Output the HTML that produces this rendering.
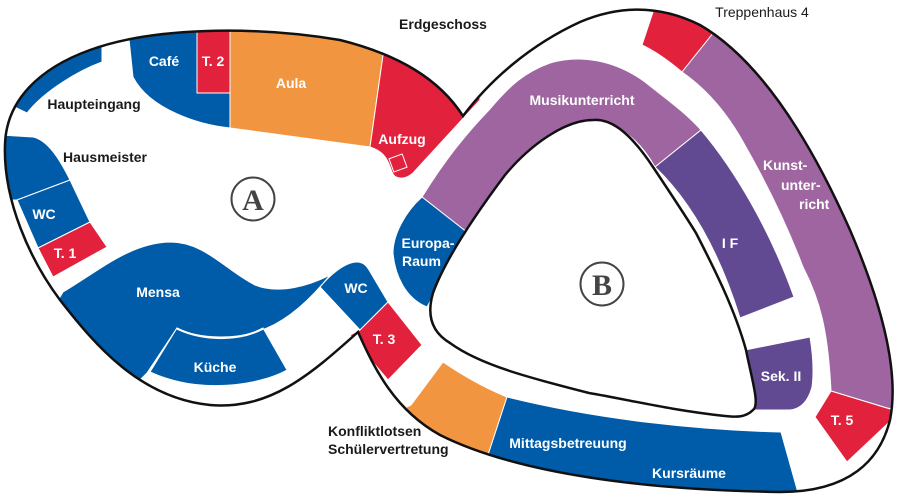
<!DOCTYPE html>
<html><head><meta charset="utf-8"><style>
html,body{margin:0;padding:0;background:#fff;width:900px;height:500px;overflow:hidden}
svg text{font-family:"Liberation Sans",sans-serif;font-weight:bold;font-size:14px;fill:#fff}
svg text.k{fill:#1a1a1a}
</style></head><body>
<svg width="900" height="500" viewBox="0 0 900 500" xmlns="http://www.w3.org/2000/svg">
<defs>
<clipPath id="c"><path id="op" d="M463,116 C440,80 400,55 340,40 C250,25 150,28 90,50 C40,68 6,100 5,145 C3,200 30,260 60,300 C95,345 140,398 210,405 C270,410 310,375 358,332 C375,370 395,410 440,435 C520,475 650,490 780,492 C850,492 880,460 890,420 C900,370 880,300 850,230 C810,140 760,60 700,25 C660,5 620,5 580,22 C530,45 490,80 463,116 Z"/></clipPath>
</defs>
<g clip-path="url(#c)" stroke="#fff" stroke-width="1">
<path fill="#005CA9" d="M102,30 L102,62 C80,70 45,90 27,113 L0,100 L0,30 Z"/>
<path fill="#005CA9" d="M0,135 L33,137 C48,140 60,160 70,180 L17,200 L0,200 Z"/>
<path fill="#005CA9" d="M17,200 L70,180 L90,222 L38,248 Z"/>
<path fill="#E2223D" d="M38,248 L90,222 L107,247 L53,277 Z"/>
<path fill="#005CA9" d="M127,20 L197,20 L197,93 L230,93 L230,128 C200,125 150,110 133,77 Z"/>
<path fill="#E2223D" d="M197,20 L230,20 L230,93 L197,93 Z"/>
<path fill="#F29540" d="M230,20 L388,20 L370,147 L230,128 Z"/>
<path fill="#E2223D" d="M388,20 L480,20 L480,100 L413,173 C405,180 395,180 392,172 C388,160 385,152 370,147 Z"/>
<path fill="#005CA9" d="M63,292 C100,270 130,243 170,242 C205,242 225,270 255,285 C280,295 310,285 330,275 C310,300 290,318 267,328 C240,340 200,340 177,328 L147,373 L120,400 L40,330 Z"/>
<path fill="#005CA9" d="M177,328 C205,342 240,340 263,328 L287,370 C260,385 200,395 150,372 Z"/>
<path fill="#005CA9" d="M320,287 C330,275 345,262 357,262 C365,262 368,268 372,275 L388,302 L360,330 Z"/>
<path fill="#E2223D" d="M388,302 L422,345 L388,380 L350,335 L360,330 Z"/>
<path fill="#F29540" d="M443,362 C462,375 485,388 507,397 L488,455 L380,420 L411,405 Z"/>
<path fill="#005CA9" d="M507,397 C600,420 700,430 781,432 L800,500 L470,500 L488,455 Z"/>
<path fill="#E2223D" d="M657,0 L714,0 L714,32 L682,72 C670,62 657,52 642,45 Z"/>
<path fill="#9E65A0" d="M714,32 L740,0 L900,0 L900,410 L887,408 L831,391 C828,330 820,300 803,267 C785,220 765,180 742,140 C725,110 705,88 682,72 Z"/>
<path fill="#E2223D" d="M815,417 L831,391 L900,412 L847,462 Z"/>
<path fill="#9E65A0" d="M422,197 C445,160 465,135 489,110 C510,85 525,72 550,63 C580,54 615,60 645,82 C665,98 685,112 701,130 L655,167 C640,140 615,120 593,120 C570,120 545,140 530,158 L468,233 Z"/>
<path fill="#624A92" d="M701,130 C735,170 770,230 794,297 L740,318 C725,270 700,210 655,167 Z"/>
<path fill="#624A92" d="M745,350 L810,337 C813,355 814,372 812,387 C808,402 800,409 790,410 L745,410 Z"/>
<path fill="#005CA9" d="M422,197 L468,233 L427,307 C405,298 395,275 393,253 C393,235 405,212 422,197 Z"/>
</g>
<path d="M593,120 C615,118 635,140 653,167 C675,200 685,215 696,233 C715,270 735,310 746,350 C752,380 760,405 753,410 C745,418 735,417 725,416 C670,410 630,400 589,393 C530,378 480,365 450,343 C428,330 428,310 433,293 C445,260 475,215 505,175 C530,145 565,120 593,120 Z" fill="#fff" stroke="#111" stroke-width="2.5"/>
<use href="#op" fill="none" stroke="#111" stroke-width="2.5"/>
<rect x="391" y="156" width="14" height="14" fill="none" stroke="#fff" stroke-width="1" transform="rotate(-20 398 163)"/>
<path d="M177,329 C205,342 240,341 263,329" fill="none" stroke="#fff" stroke-width="1.5"/>
<circle cx="253" cy="199" r="21.5" fill="#fff" stroke="#444" stroke-width="2"/>
<text x="253" y="210" text-anchor="middle" style="font-family:'Liberation Serif',serif;font-size:30px;fill:#444">A</text>
<circle cx="602" cy="284" r="21.5" fill="#fff" stroke="#444" stroke-width="2"/>
<text x="602" y="295" text-anchor="middle" style="font-family:'Liberation Serif',serif;font-size:30px;fill:#444">B</text>
<text x="164" y="66" text-anchor="middle">Café</text>
<text x="213" y="66" text-anchor="middle">T. 2</text>
<text x="291" y="88" text-anchor="middle">Aula</text>
<text x="402" y="144" text-anchor="middle">Aufzug</text>
<text class="k" x="94" y="109" text-anchor="middle">Haupteingang</text>
<text class="k" x="105" y="162" text-anchor="middle">Hausmeister</text>
<text x="44" y="219" text-anchor="middle">WC</text>
<text x="65" y="258" text-anchor="middle">T. 1</text>
<text x="158" y="297" text-anchor="middle">Mensa</text>
<text x="215" y="372" text-anchor="middle">Küche</text>
<text x="356" y="293" text-anchor="middle">WC</text>
<text x="384" y="344" text-anchor="middle">T. 3</text>
<text x="428" y="248" text-anchor="middle">Europa-</text>
<text x="402" y="266">Raum</text>
<text x="582" y="105" text-anchor="middle">Musikunterricht</text>
<text x="730" y="248" text-anchor="middle">I F</text>
<text x="781" y="381" text-anchor="middle">Sek. II</text>
<text x="763" y="170">Kunst-</text>
<text x="781" y="190">unter-</text>
<text x="799" y="209">richt</text>
<text x="842" y="425" text-anchor="middle">T. 5</text>
<text x="568" y="448" text-anchor="middle">Mittagsbetreuung</text>
<text x="689" y="478" text-anchor="middle">Kursräume</text>
<text class="k" x="328" y="436">Konfliktlotsen</text>
<text class="k" x="328" y="454">Schülervertretung</text>
<text class="k" x="443" y="29" text-anchor="middle">Erdgeschoss</text>
<text class="k" x="762" y="17" text-anchor="middle" style="font-weight:normal">Treppenhaus 4</text>
</svg>
</body></html>
